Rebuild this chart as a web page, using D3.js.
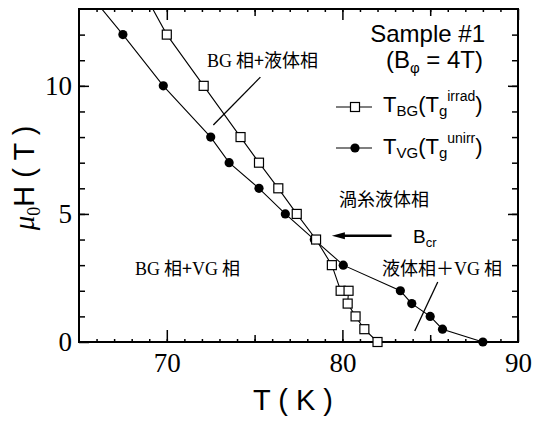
<!DOCTYPE html>
<html>
<head>
<meta charset="utf-8">
<script src="https://cdn.jsdelivr.net/npm/d3@7"></script>
<style>
  body { margin: 0; background: #fff; }
</style>
</head>
<body>
<div id="chart"></div>
<script>
// T_BG (T_g irrad), open squares : temperature (K) and field (T)
var bgTemp = [68.8, 70.0, 72.1, 74.2, 75.25, 76.35, 77.4, 78.5, 79.4, 79.9, 80.35, 80.3, 80.75, 81.25, 82.0];
var bgField = [13.5, 12, 10, 8, 7, 6, 5, 4, 3, 2, 2, 1.5, 1, 0.5, 0];

// T_VG (T_g unirr), filled circles
var vgTemp = [65.7, 67.5, 69.8, 72.5, 73.55, 75.25, 76.75, 78.4, 80.05, 83.3, 83.95, 85.0, 85.7, 88.0];
var vgField = [13.5, 12, 10, 8, 7, 6, 5, 4, 3, 2, 1.5, 1, 0.5, 0];

var xTickLabels = [70, 80, 90];
var yTickLabels = [0, 5, 10];

var serif = "'Liberation Serif', 'Times New Roman', serif";
var sans = "'Liberation Sans', Arial, sans-serif";
var cjk = "'Noto Sans CJK JP', 'Noto Sans CJK SC', sans-serif";

var width = 535, height = 423;
var plot = { left: 79, right: 518, top: 9, bottom: 342 };

var svg = d3.select("#chart").append("svg")
  .attr("width", width)
  .attr("height", height)
  .style("background", "#fff");

var x = d3.scaleLinear().domain([65, 90]).range([plot.left, plot.right]);
var y = d3.scaleLinear().domain([0, 13]).range([plot.bottom, plot.top]);

// axes, all ticks pointing inward
function addAxis(axisFn, pos, values, size, labels) {
  var ax = axisFn(axisFn === d3.axisBottom || axisFn === d3.axisTop ? x : y)
    .tickValues(values)
    .tickSizeInner(-size)
    .tickSizeOuter(0)
    .tickPadding(axisFn === d3.axisBottom ? 11 : 7)
    .tickFormat(labels ? d3.format("d") : "");
  var g = svg.append("g").attr("transform", pos).call(ax);
  g.select(".domain").remove();
  g.selectAll("line").attr("stroke", "#000").attr("stroke-width", 1.5);
  g.selectAll("text").attr("font-family", serif).attr("font-size", 27).attr("fill", "#000");
  return g;
}

var everyK = d3.range(66, 90, 1);
var everyT = d3.range(1, 13, 1);

addAxis(d3.axisBottom, "translate(0," + plot.bottom + ")", everyK, 3, false);
addAxis(d3.axisBottom, "translate(0," + plot.bottom + ")", [75, 85], 7, false);
addAxis(d3.axisBottom, "translate(0," + plot.bottom + ")", xTickLabels, 12, true);
addAxis(d3.axisTop, "translate(0," + plot.top + ")", everyK, 3, false);
addAxis(d3.axisTop, "translate(0," + plot.top + ")", [75, 85], 7, false);
addAxis(d3.axisTop, "translate(0," + plot.top + ")", xTickLabels, 11, false);
addAxis(d3.axisLeft, "translate(" + plot.left + ",0)", everyT, 6, false);
addAxis(d3.axisLeft, "translate(" + plot.left + ",0)", yTickLabels, 10, true);
addAxis(d3.axisRight, "translate(" + plot.right + ",0)", everyT, 6, false);
addAxis(d3.axisRight, "translate(" + plot.right + ",0)", [5, 10], 10, false);

// frame
svg.append("rect")
  .attr("x", plot.left).attr("y", plot.top)
  .attr("width", plot.right - plot.left).attr("height", plot.bottom - plot.top)
  .attr("fill", "none").attr("stroke", "#000").attr("stroke-width", 2);

// clip only the top (curves run out of the frame there)
svg.append("clipPath").attr("id", "clip")
  .append("rect").attr("x", plot.left).attr("y", plot.top)
  .attr("width", plot.right - plot.left).attr("height", plot.bottom - plot.top + 20);

var marks = svg.append("g").attr("clip-path", "url(#clip)");

var bgData = bgTemp.map(function (t, i) { return { t: t, h: bgField[i] }; });
var vgData = vgTemp.map(function (t, i) { return { t: t, h: vgField[i] }; });

var line = d3.line()
  .x(function (d) { return x(d.t); })
  .y(function (d) { return y(d.h); });

marks.append("path").datum(vgData).attr("d", line)
  .attr("fill", "none").attr("stroke", "#000").attr("stroke-width", 1.1);
marks.append("path").datum(bgData).attr("d", line)
  .attr("fill", "none").attr("stroke", "#000").attr("stroke-width", 1.1);

marks.selectAll(".vg").data(vgData).enter().append("circle")
  .attr("class", "vg")
  .attr("cx", function (d) { return x(d.t); })
  .attr("cy", function (d) { return y(d.h); })
  .attr("r", 4.6)
  .attr("fill", "#000");

var sq = 9;
marks.selectAll(".bg").data(bgData).enter().append("rect")
  .attr("class", "bg")
  .attr("x", function (d) { return x(d.t) - sq / 2; })
  .attr("y", function (d) { return y(d.h) - sq / 2; })
  .attr("width", sq).attr("height", sq)
  .attr("fill", "#fff").attr("stroke", "#000").attr("stroke-width", 1.2);

// annotation pointer lines (data coordinates)
var pointers = [
  [[75.33, 10.34], [72.65, 8.47]],
  [[85.43, 2.34], [84.12, 0.43]]
];
pointers.forEach(function (p) {
  svg.append("line")
    .attr("x1", x(p[0][0])).attr("y1", y(p[0][1]))
    .attr("x2", x(p[1][0])).attr("y2", y(p[1][1]))
    .attr("stroke", "#000").attr("stroke-width", 1.3);
});

// B_cr arrow, pointing at the crossing
var arrowH = 4.15;
svg.append("line")
  .attr("x1", x(82.8)).attr("y1", y(arrowH))
  .attr("x2", x(79.9)).attr("y2", y(arrowH))
  .attr("stroke", "#000").attr("stroke-width", 2.5);
svg.append("path")
  .attr("d", "M" + x(79.4) + "," + y(arrowH) + " l13,-3.5 l0,7 z")
  .attr("fill", "#000");

// legend
var legend = svg.append("g");
legend.append("line").attr("x1", 336).attr("x2", 372).attr("y1", 107).attr("y2", 107)
  .attr("stroke", "#000").attr("stroke-width", 1.1);
legend.append("rect").attr("x", 355 - sq / 2).attr("y", 107 - sq / 2)
  .attr("width", sq).attr("height", sq)
  .attr("fill", "#fff").attr("stroke", "#000").attr("stroke-width", 1.2);
legend.append("line").attr("x1", 336).attr("x2", 372).attr("y1", 148).attr("y2", 148)
  .attr("stroke", "#000").attr("stroke-width", 1.1);
legend.append("circle").attr("cx", 355).attr("cy", 148).attr("r", 4.6).attr("fill", "#000");

function legendText(yPos, sub, sup) {
  var t = svg.append("text").attr("x", 383).attr("y", yPos)
    .attr("font-family", sans).attr("font-size", 22).attr("fill", "#000");
  t.append("tspan").text("T");
  t.append("tspan").attr("font-size", 15).attr("dy", 4).text(sub);
  t.append("tspan").attr("dy", -4).text("(T");
  t.append("tspan").attr("font-size", 15).attr("dy", 4).text("g");
  t.append("tspan").attr("font-size", 14).attr("dy", -15).text(sup);
  t.append("tspan").attr("dy", 11).text(")");
}
legendText(112, "BG", "irrad");
legendText(154, "VG", "unirr");

// sample info
svg.append("text").attr("x", 485).attr("y", 42)
  .attr("text-anchor", "end")
  .attr("font-family", sans).attr("font-size", 24).text("Sample #1");
var bphi = svg.append("text").attr("x", 483).attr("y", 68)
  .attr("text-anchor", "end")
  .attr("font-family", sans).attr("font-size", 24);
bphi.append("tspan").text("(B");
bphi.append("tspan").attr("font-size", 15).attr("dy", 5).text("\u03c6");
bphi.append("tspan").attr("dy", -5).text(" = 4T)");

// region labels
function regionLabel(xPos, yPos, parts) {
  var t = svg.append("text").attr("x", xPos).attr("y", yPos).attr("font-size", 18).attr("fill", "#000");
  parts.forEach(function (p) {
    t.append("tspan").attr("font-family", p[1] === "s" ? serif : cjk).text(p[0]);
  });
}
regionLabel(207, 67, [["BG", "s"], [" 相+液体相", "c"]]);
regionLabel(135, 275, [["BG", "s"], [" 相+", "c"], ["VG", "s"], [" 相", "c"]]);
regionLabel(339, 206, [["渦糸液体相", "c"]]);
regionLabel(382, 275, [["液体相＋", "c"], ["VG", "s"], [" 相", "c"]]);

var bcr = svg.append("text").attr("x", 413).attr("y", 243)
  .attr("font-family", sans).attr("font-size", 19);
bcr.append("tspan").text("B");
bcr.append("tspan").attr("font-size", 13).attr("dy", 4).text("cr");

// axis titles
svg.append("text").attr("x", 293).attr("y", 410)
  .attr("text-anchor", "middle")
  .attr("font-family", sans).attr("font-size", 29).text("T ( K )");

var ylab = svg.append("text")
  .attr("transform", "translate(34,178) rotate(-90)")
  .attr("text-anchor", "middle")
  .attr("font-family", sans).attr("font-size", 29);
ylab.append("tspan").attr("font-family", serif).attr("font-style", "italic").text("\u03bc");
ylab.append("tspan").attr("font-family", serif).attr("font-size", 18).attr("dy", 6).text("0");
ylab.append("tspan").attr("dy", -6).text("H ( T )");
</script>
</body>
</html>
